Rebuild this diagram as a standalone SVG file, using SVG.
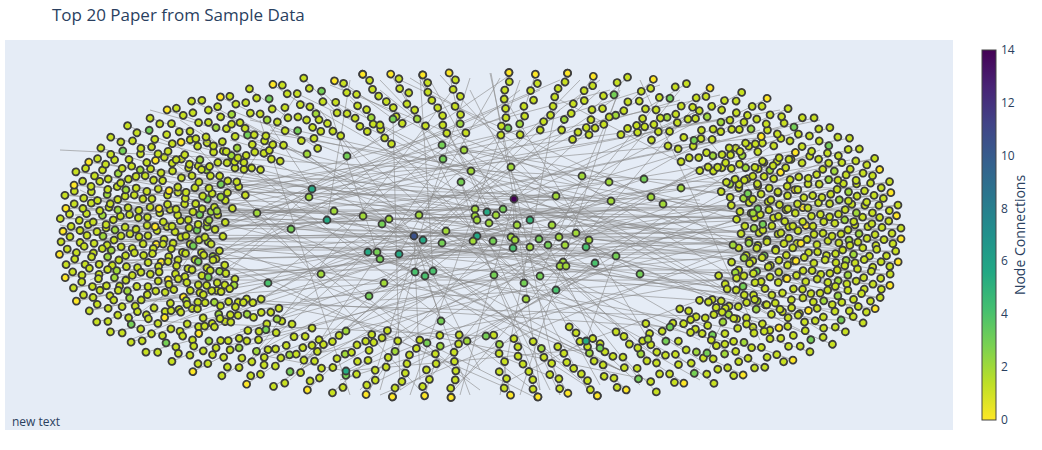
<svg xmlns="http://www.w3.org/2000/svg" width="1042" height="450" viewBox="0 0 1042 450">
<style>
.t{font-family:"Open Sans","Liberation Sans",Arial,sans-serif;fill:#2a3f5f}
.e{fill:none;stroke:#888;stroke-width:.85;stroke-opacity:.7}
circle{stroke:#3d3d3d;stroke-width:1.8}
.k0{fill:#fde725}.k1{fill:#c8e020}.k2{fill:#a2da37}.k3{fill:#75d054}.k4{fill:#4ac16d}.k5{fill:#34b679}.k6{fill:#25a884}.kB{fill:#3b528b}.k14{fill:#440154}
</style>
<defs>
<clipPath id="plot"><rect x="5" y="40" width="948" height="390"/></clipPath>
<linearGradient id="vir" x1="0" y1="1" x2="0" y2="0">
<stop offset="0" stop-color="#fde725"/><stop offset=".1" stop-color="#bddf26"/><stop offset=".2" stop-color="#7ad151"/><stop offset=".3" stop-color="#44bf70"/><stop offset=".4" stop-color="#22a884"/><stop offset=".5" stop-color="#21918c"/><stop offset=".6" stop-color="#2a788e"/><stop offset=".7" stop-color="#355f8d"/><stop offset=".8" stop-color="#414487"/><stop offset=".9" stop-color="#482475"/><stop offset="1" stop-color="#440154"/>
</linearGradient>
<g id="A"><path class="e" d="M0 0L52 -2"/><circle class="k2" cx="0" cy="0" r="3.5"/><circle class="k1" cx="9" cy="2" r="3.5"/><circle class="k1" cx="18" cy="-2" r="3.5"/><circle class="k1" cx="27" cy="5" r="3.5"/><circle class="k1" cx="35" cy="-1" r="3.5"/><circle class="k1" cx="44" cy="3" r="3.5"/><circle class="k0" cx="52" cy="-2" r="3.5"/></g>
<g id="B"><path class="e" d="M0 -3L48 1"/><circle class="k1" cx="0" cy="-3" r="3.5"/><circle class="k1" cx="8" cy="4" r="3.5"/><circle class="k1" cx="18" cy="-4" r="3.5"/><circle class="k3" cx="26" cy="3" r="3.5"/><circle class="k1" cx="37" cy="-3" r="3.5"/><circle class="k1" cx="48" cy="1" r="3.5"/></g>
<g id="C"><path class="e" d="M0 1L42 0"/><circle class="k1" cx="0" cy="1" r="3.5"/><circle class="k1" cx="10" cy="-3" r="3.5"/><circle class="k1" cx="20" cy="2" r="3.5"/><circle class="k1" cx="31" cy="-2" r="3.5"/><circle class="k1" cx="42" cy="0" r="3.5"/></g>
<g id="D"><path class="e" d="M0 0L53 -1"/><circle class="k1" cx="0" cy="0" r="3.5"/><circle class="k1" cx="7" cy="-5" r="3.5"/><circle class="k2" cx="11" cy="4" r="3.5"/><circle class="k1" cx="20" cy="-3" r="3.5"/><circle class="k1" cx="27" cy="5" r="3.5"/><circle class="k1" cx="34" cy="-2" r="3.5"/><circle class="k1" cx="44" cy="4" r="3.5"/><circle class="k1" cx="53" cy="-1" r="3.5"/></g>
<g id="E"><path class="e" d="M0 0L27 0"/><circle class="k1" cx="0" cy="0" r="3.5"/><circle class="k1" cx="9" cy="-1" r="3.5"/><circle class="k1" cx="18" cy="2" r="3.5"/><circle class="k1" cx="27" cy="0" r="3.5"/></g>
<g id="P1"><path class="e" d="M-160 -2L0 0"/><use href="#A" x="-52"/><use href="#C" x="-104" y="3"/><use href="#B" x="-160" y="-2"/></g>
<g id="P2"><path class="e" d="M-147 -3L0 0"/><use href="#D" x="-53"/><use href="#E" x="-87" y="4"/><use href="#A" x="-147" y="-3"/></g>
<g id="Q1"><use href="#B" x="-48"/><use href="#A" x="-108" y="3"/><use href="#E" x="-140" y="-2"/></g>
<g id="Q2"><use href="#C" x="-42"/><use href="#D" x="-103" y="-3"/><use href="#E" x="-137" y="3"/></g>
<g id="M1"><use href="#A" x="-52"/><use href="#B" x="-110" y="2"/></g>
<g id="M2"><use href="#D" x="-53"/><use href="#C" x="-102" y="-3"/></g>
<g id="S1"><use href="#B" x="-48"/><use href="#E" x="-83" y="3"/></g>
<g id="S2"><use href="#A" x="-52"/><use href="#E" x="-85" y="-3"/></g>
<g id="T1"><use href="#E" x="-27"/><use href="#E" x="-63" y="3"/><circle class="k0" cx="0" cy="0" r="3.5"/></g>
<g id="T2"><use href="#A" x="-52"/><circle class="k1" cx="-62" cy="4" r="3.5"/></g>
</defs>
<rect width="1042" height="450" fill="#fff"/>
<rect id="plotbg" x="5" y="40" width="948" height="390" fill="#e5ecf6"/>
<g clip-path="url(#plot)">
<g id="connectors">
<path class="e" d="M514 199L491 73M514 199L380 90M514 199L600 120M514 199L640 274M514 199L733 245M514 199L540 390M514 199L460 395M514 199L170 190M514 199L830 270M514 199L300 95M514 199L513 248M514 199L611 201M514 199L556 196M514 199L700 110M414 236L200 240M414 236L100 180M414 236L363 216M414 236L389 219M414 236L441 321M414 236L420 380M414 236L320 110M414 236L620 95M414 236L860 240M414 236L150 260M414 236L480 370M477 236L90 235M477 236L880 230M477 236L300 365M477 236L700 340M477 236L461 182M477 236L540 390M487 212L420 75M487 212L760 130M487 212L230 175M487 212L660 360M423 240L250 150M423 240L800 300M423 240L380 390M423 240L580 80M312 189L140 150M312 189L260 110M312 189L540 90M312 189L200 300M327 220L110 280M327 220L350 80M327 220L720 140M368 252L160 320M368 252L620 370M368 252L780 200M399 254L130 305M399 254L500 78M399 254L850 300M346 371L260 355M346 371L441 321M346 371L600 348M586 341L500 385M586 341L700 300M586 341L616 256M530 220L380 125M530 220L760 320M530 220L220 340M307 154L150 110M307 154L580 380M347 156L230 110M347 156L460 100M393 119L400 390M393 119L340 80M334 211L120 210M334 211L620 370M363 216L840 175M389 219L230 320M382 224L560 360M419 215L800 150M446 231L80 205M446 231L740 280M442 243L290 380M377 252L330 110M380 259L860 250M415 272L300 365M415 272L740 330M425 276L470 395M433 271L420 75M384 283L150 300M369 296L560 110M321 274L90 260M321 274L700 110M268 283L130 340M268 283L520 90M291 229L820 120M257 213L660 85M217 211L760 300M209 220L880 215M213 260L500 385M442 145L180 280M464 150L880 245M443 159L300 370M471 171L100 250M461 182L560 395M475 209L230 140M489 223L850 160M496 215L140 230M503 209L640 380M508 128L260 350M511 167L780 320M556 196L120 180M582 176L880 260M609 182L70 230M644 179L180 330M611 201L250 120M651 197L830 300M663 204L400 80M681 188L860 215M517 225L90 200M552 225L870 235M493 241L360 390M511 237L150 140M513 248L700 360M530 247L100 290M539 239L800 130M548 245L240 330M559 237L680 90M565 245L130 240M576 233L880 200M589 240L440 75M586 247L750 310M616 256L160 200M595 263L450 390M563 262L820 280M494 275L230 350M540 276L620 90M524 283L350 100M556 290L840 310M526 299L300 100M640 274L860 270M733 245L110 220M753 213L200 170M441 321L730 150M427 343L540 400M467 341L780 160M486 336L130 320M648 339L500 90M670 327L250 300M707 353L790 190M600 348L470 90M277 319L600 80M346 331L780 230M80 210L880 220M100 240L860 230M120 260L820 250M90 225L780 240M150 230L850 200M140 250L900 240M110 200L720 120M160 280L870 280M200 200L800 260M180 240L760 220M130 190L700 200M120 300L840 320M100 270L650 380M200 320L880 200M250 140L850 290M220 180L620 370M300 100L700 330M350 90L760 310M400 85L550 390M600 90L300 360M650 95L200 330M700 120L260 350M750 140L330 370M800 170L380 380M840 190L160 300M260 360L820 150M340 380L880 210M480 390L170 160M560 380L110 200M620 370L140 170M200 130L540 395M170 140L470 380M560 85L500 395M430 80L600 385M380 80L650 360M660 100L420 390M230 160L880 270M90 200L600 270M70 230L520 130M300 370L740 120M330 100L800 330M470 78L370 390M520 80L410 395M490 73L560 395M60 150L870 190M75 215L820 205M95 250L880 250M130 270L790 270M170 210L890 210M190 260L830 240M110 230L640 210M230 200L900 225M160 170L760 240M140 290L860 200M85 240L700 260M200 280L780 180M250 250L810 300M120 165L610 250M300 300L880 240M270 130L860 260M220 110L700 380M180 120L600 395M330 85L840 290M410 78L820 330M460 80L250 360M510 75L180 300M560 80L140 260M610 90L120 220M680 100L160 250M740 115L100 240M790 135L90 200M830 160L300 360M870 190L380 395M860 280L150 170M820 320L200 180M760 350L120 200M700 370L240 120M640 385L320 90M590 395L420 80M520 395L620 85M450 395L700 100M400 390L780 140M340 375L860 170M280 360L880 250M230 345L820 200M180 320L760 160M90 280L520 110M60 225L480 300M80 190L440 360M900 225L470 150M880 270L380 300M850 150L300 260M780 110L200 210M720 95L90 230M250 130L900 240M350 395L260 120M640 80L760 340M300 90L160 300M700 130L850 310M200 150L420 390M560 100L870 260M430 100L130 320"/>
</g>
<g id="ring" transform="translate(480,235)">
<use id="r1" href="#P1" transform="rotate(.79)" x="421"/>
<use id="r2" href="#P2" transform="rotate(2.37)" x="416"/>
<use id="r3" href="#P1" transform="rotate(3.96)" x="419"/>
<use id="r4" href="#P2" transform="rotate(5.6)" x="412"/>
<use id="r5" href="#P1" transform="rotate(7.28)" x="413"/>
<use id="r6" href="#P2" transform="rotate(9.02)" x="405"/>
<use id="r7" href="#P1" transform="rotate(10.85)" x="402"/>
<use id="r8" href="#Q1" transform="rotate(12.78)" x="393"/>
<use id="r9" href="#Q2" transform="rotate(14.84)" x="378"/>
<use id="r10" href="#Q1" transform="rotate(17.07)" x="369"/>
<use id="r11" href="#Q2" transform="rotate(19.49)" x="350"/>
<use id="r12" href="#M1" transform="rotate(22.14)" x="337"/>
<use id="r13" href="#M2" transform="rotate(25.09)" x="314"/>
<use id="r14" href="#M1" transform="rotate(28.4)" x="298"/>
<use id="r15" href="#S1" transform="rotate(32.17)" x="277"/>
<use id="r16" href="#S2" transform="rotate(36.47)" x="252"/>
<use id="r17" href="#S1" transform="rotate(41.43)" x="236"/>
<use id="r18" href="#S2" transform="rotate(47.19)" x="213"/>
<use id="r19" href="#T1" transform="rotate(53.88)" x="199"/>
<use id="r20" href="#T2" transform="rotate(61.59)" x="181"/>
<use id="r21" href="#T1" transform="rotate(70.32)" x="172"/>
<use id="r22" href="#T2" transform="rotate(79.91)" x="163"/>
<use id="r23" href="#P2" transform="rotate(179.21)" x="419"/>
<use id="r24" href="#P1" transform="rotate(177.63)" x="421"/>
<use id="r25" href="#P2" transform="rotate(176.04)" x="415"/>
<use id="r26" href="#P1" transform="rotate(174.4)" x="417"/>
<use id="r27" href="#P2" transform="rotate(172.72)" x="410"/>
<use id="r28" href="#P1" transform="rotate(170.98)" x="409"/>
<use id="r29" href="#P2" transform="rotate(169.15)" x="398"/>
<use id="r30" href="#Q2" transform="rotate(167.22)" x="393"/>
<use id="r31" href="#Q1" transform="rotate(165.16)" x="382"/>
<use id="r32" href="#Q2" transform="rotate(162.93)" x="365"/>
<use id="r33" href="#Q1" transform="rotate(160.51)" x="354"/>
<use id="r34" href="#M2" transform="rotate(157.86)" x="333"/>
<use id="r35" href="#M1" transform="rotate(154.91)" x="318"/>
<use id="r36" href="#M2" transform="rotate(151.6)" x="294"/>
<use id="r37" href="#S2" transform="rotate(147.83)" x="277"/>
<use id="r38" href="#S1" transform="rotate(143.53)" x="256"/>
<use id="r39" href="#S2" transform="rotate(138.57)" x="232"/>
<use id="r40" href="#S1" transform="rotate(132.81)" x="216"/>
<use id="r41" href="#T2" transform="rotate(126.12)" x="196"/>
<use id="r42" href="#T1" transform="rotate(118.41)" x="184"/>
<use id="r43" href="#T2" transform="rotate(109.68)" x="170"/>
<use id="r44" href="#T1" transform="rotate(100.09)" x="165"/>
<use id="r45" href="#P1" transform="rotate(180.79)" x="417"/>
<use id="r46" href="#P2" transform="rotate(182.37)" x="420"/>
<use id="r47" href="#P1" transform="rotate(183.96)" x="415"/>
<use id="r48" href="#P2" transform="rotate(185.6)" x="417"/>
<use id="r49" href="#P1" transform="rotate(187.28)" x="409"/>
<use id="r50" href="#P2" transform="rotate(189.02)" x="409"/>
<use id="r51" href="#P1" transform="rotate(190.85)" x="398"/>
<use id="r52" href="#Q1" transform="rotate(192.78)" x="389"/>
<use id="r53" href="#Q2" transform="rotate(194.84)" x="382"/>
<use id="r54" href="#Q1" transform="rotate(197.07)" x="369"/>
<use id="r55" href="#Q2" transform="rotate(199.49)" x="350"/>
<use id="r56" href="#M1" transform="rotate(202.14)" x="337"/>
<use id="r57" href="#M2" transform="rotate(205.09)" x="318"/>
<use id="r58" href="#M1" transform="rotate(208.4)" x="294"/>
<use id="r59" href="#S1" transform="rotate(212.17)" x="273"/>
<use id="r60" href="#S2" transform="rotate(216.47)" x="256"/>
<use id="r61" href="#S1" transform="rotate(221.43)" x="236"/>
<use id="r62" href="#S2" transform="rotate(227.19)" x="212"/>
<use id="r63" href="#T1" transform="rotate(233.88)" x="199"/>
<use id="r64" href="#T2" transform="rotate(241.59)" x="184"/>
<use id="r65" href="#T1" transform="rotate(250.32)" x="170"/>
<use id="r66" href="#T2" transform="rotate(259.91)" x="165"/>
<use id="r67" href="#P2" transform="rotate(-.79)" x="421"/>
<use id="r68" href="#P1" transform="rotate(-2.37)" x="417"/>
<use id="r69" href="#P2" transform="rotate(-3.96)" x="419"/>
<use id="r70" href="#P1" transform="rotate(-5.6)" x="413"/>
<use id="r71" href="#P2" transform="rotate(-7.28)" x="413"/>
<use id="r72" href="#P1" transform="rotate(-9.02)" x="405"/>
<use id="r73" href="#P2" transform="rotate(-10.85)" x="402"/>
<use id="r74" href="#Q2" transform="rotate(-12.78)" x="389"/>
<use id="r75" href="#Q1" transform="rotate(-14.84)" x="382"/>
<use id="r76" href="#Q2" transform="rotate(-17.07)" x="366"/>
<use id="r77" href="#Q1" transform="rotate(-19.49)" x="354"/>
<use id="r78" href="#M2" transform="rotate(-22.14)" x="333"/>
<use id="r79" href="#M1" transform="rotate(-25.09)" x="318"/>
<use id="r80" href="#M2" transform="rotate(-28.4)" x="298"/>
<use id="r81" href="#S2" transform="rotate(-32.17)" x="273"/>
<use id="r82" href="#S1" transform="rotate(-36.47)" x="256"/>
<use id="r83" href="#S2" transform="rotate(-41.43)" x="233"/>
<use id="r84" href="#S1" transform="rotate(-47.19)" x="216"/>
<use id="r85" href="#T2" transform="rotate(-53.88)" x="195"/>
<use id="r86" href="#T1" transform="rotate(-61.59)" x="184"/>
<use id="r87" href="#T2" transform="rotate(-70.32)" x="170"/>
<use id="r88" href="#T1" transform="rotate(-79.91)" x="165"/>
</g>
<g id="inner">
<g id="n1"><circle class="k2" cx="307" cy="154" r="3.5"/></g>
<g id="n2"><circle class="k3" cx="347" cy="156" r="3.5"/></g>
<g id="n3"><circle class="k3" cx="393" cy="119" r="3.5"/></g>
<g id="n4"><circle class="k6" cx="312" cy="189" r="3.5"/></g>
<g id="n5"><circle class="k2" cx="309" cy="197" r="3.5"/></g>
<g id="n6"><circle class="k2" cx="334" cy="211" r="3.5"/></g>
<g id="n7"><circle class="k6" cx="327" cy="220" r="3.5"/></g>
<g id="n8"><circle class="k2" cx="363" cy="216" r="3.5"/></g>
<g id="n9"><circle class="k2" cx="389" cy="219" r="3.5"/></g>
<g id="n10"><circle class="k3" cx="382" cy="224" r="3.5"/></g>
<g id="n11"><circle class="k2" cx="419" cy="215" r="3.5"/></g>
<g id="n12"><circle class="kB" cx="414" cy="236" r="3.5"/></g>
<g id="n13"><circle class="k6" cx="423" cy="240" r="3.5"/></g>
<g id="n14"><circle class="k2" cx="446" cy="231" r="3.5"/></g>
<g id="n15"><circle class="k3" cx="442" cy="243" r="3.5"/></g>
<g id="n16"><circle class="k6" cx="368" cy="252" r="3.5"/></g>
<g id="n17"><circle class="k3" cx="377" cy="252" r="3.5"/></g>
<g id="n18"><circle class="k3" cx="380" cy="259" r="3.5"/></g>
<g id="n19"><circle class="k6" cx="399" cy="254" r="3.5"/></g>
<g id="n20"><circle class="k4" cx="415" cy="272" r="3.5"/></g>
<g id="n21"><circle class="k4" cx="425" cy="276" r="3.5"/></g>
<g id="n22"><circle class="k4" cx="433" cy="271" r="3.5"/></g>
<g id="n23"><circle class="k2" cx="384" cy="283" r="3.5"/></g>
<g id="n24"><circle class="k3" cx="369" cy="296" r="3.5"/></g>
<g id="n25"><circle class="k2" cx="321" cy="274" r="3.5"/></g>
<g id="n26"><circle class="k4" cx="268" cy="283" r="3.5"/></g>
<g id="n27"><circle class="k3" cx="291" cy="229" r="3.5"/></g>
<g id="n28"><circle class="k2" cx="257" cy="213" r="3.5"/></g>
<g id="n29"><circle class="k2" cx="217" cy="211" r="3.5"/></g>
<g id="n30"><circle class="k2" cx="209" cy="220" r="3.5"/></g>
<g id="n31"><circle class="k1" cx="213" cy="260" r="3.5"/></g>
<g id="n32"><circle class="k3" cx="442" cy="145" r="3.5"/></g>
<g id="n33"><circle class="k2" cx="464" cy="150" r="3.5"/></g>
<g id="n34"><circle class="k3" cx="443" cy="159" r="3.5"/></g>
<g id="n35"><circle class="k2" cx="471" cy="171" r="3.5"/></g>
<g id="n36"><circle class="k3" cx="461" cy="182" r="3.5"/></g>
<g id="n37"><circle class="k2" cx="475" cy="209" r="3.5"/></g>
<g id="n38"><circle class="k2" cx="475" cy="216" r="3.5"/></g>
<g id="n39"><circle class="k2" cx="477" cy="220" r="3.5"/></g>
<g id="n40"><circle class="k6" cx="487" cy="212" r="3.5"/></g>
<g id="n41"><circle class="k2" cx="489" cy="223" r="3.5"/></g>
<g id="n42"><circle class="k6" cx="477" cy="236" r="3.5"/></g>
<g id="n43"><circle class="k2" cx="473" cy="241" r="3.5"/></g>
<g id="n44"><circle class="k2" cx="496" cy="215" r="3.5"/></g>
<g id="n45"><circle class="k3" cx="503" cy="209" r="3.5"/></g>
<g id="n46"><circle class="k3" cx="508" cy="128" r="3.5"/></g>
<g id="n47"><circle class="k2" cx="511" cy="167" r="3.5"/></g>
<g id="n48"><circle class="k14" cx="514" cy="199" r="3.5"/></g>
<g id="n49"><circle class="k2" cx="556" cy="196" r="3.5"/></g>
<g id="n50"><circle class="k2" cx="582" cy="176" r="3.5"/></g>
<g id="n51"><circle class="k2" cx="609" cy="182" r="3.5"/></g>
<g id="n52"><circle class="k3" cx="644" cy="179" r="3.5"/></g>
<g id="n53"><circle class="k2" cx="611" cy="201" r="3.5"/></g>
<g id="n54"><circle class="k2" cx="651" cy="197" r="3.5"/></g>
<g id="n55"><circle class="k2" cx="663" cy="204" r="3.5"/></g>
<g id="n56"><circle class="k2" cx="681" cy="188" r="3.5"/></g>
<g id="n57"><circle class="k2" cx="517" cy="225" r="3.5"/></g>
<g id="n58"><circle class="k5" cx="530" cy="220" r="3.5"/></g>
<g id="n59"><circle class="k2" cx="552" cy="225" r="3.5"/></g>
<g id="n60"><circle class="k3" cx="493" cy="241" r="3.5"/></g>
<g id="n61"><circle class="k2" cx="511" cy="237" r="3.5"/></g>
<g id="n62"><circle class="k2" cx="515" cy="240" r="3.5"/></g>
<g id="n63"><circle class="k4" cx="513" cy="248" r="3.5"/></g>
<g id="n64"><circle class="k2" cx="530" cy="247" r="3.5"/></g>
<g id="n65"><circle class="k3" cx="539" cy="239" r="3.5"/></g>
<g id="n66"><circle class="k3" cx="548" cy="245" r="3.5"/></g>
<g id="n67"><circle class="k2" cx="559" cy="237" r="3.5"/></g>
<g id="n68"><circle class="k2" cx="565" cy="245" r="3.5"/></g>
<g id="n69"><circle class="k2" cx="576" cy="233" r="3.5"/></g>
<g id="n70"><circle class="k2" cx="589" cy="240" r="3.5"/></g>
<g id="n71"><circle class="k4" cx="586" cy="247" r="3.5"/></g>
<g id="n72"><circle class="k3" cx="616" cy="256" r="3.5"/></g>
<g id="n73"><circle class="k4" cx="595" cy="263" r="3.5"/></g>
<g id="n74"><circle class="k2" cx="563" cy="262" r="3.5"/></g>
<g id="n75"><circle class="k2" cx="560" cy="266" r="3.5"/></g>
<g id="n76"><circle class="k2" cx="566" cy="266" r="3.5"/></g>
<g id="n77"><circle class="k3" cx="494" cy="275" r="3.5"/></g>
<g id="n78"><circle class="k3" cx="540" cy="276" r="3.5"/></g>
<g id="n79"><circle class="k3" cx="524" cy="283" r="3.5"/></g>
<g id="n80"><circle class="k4" cx="556" cy="290" r="3.5"/></g>
<g id="n81"><circle class="k2" cx="526" cy="299" r="3.5"/></g>
<g id="n82"><circle class="k3" cx="640" cy="274" r="3.5"/></g>
<g id="n83"><circle class="k2" cx="733" cy="245" r="3.5"/></g>
<g id="n84"><circle class="k2" cx="753" cy="213" r="3.5"/></g>
<g id="n85"><circle class="k1" cx="380" cy="125" r="3.5"/></g>
<g id="n86"><circle class="k3" cx="441" cy="321" r="3.5"/></g>
<g id="n87"><circle class="k2" cx="346" cy="331" r="3.5"/></g>
<g id="n88"><circle class="k3" cx="427" cy="343" r="3.5"/></g>
<g id="n89"><circle class="k2" cx="467" cy="341" r="3.5"/></g>
<g id="n90"><circle class="k3" cx="486" cy="336" r="3.5"/></g>
<g id="n91"><circle class="k6" cx="346" cy="371" r="3.5"/></g>
<g id="n92"><circle class="k2" cx="277" cy="319" r="3.5"/></g>
<g id="n93"><circle class="k2" cx="648" cy="339" r="3.5"/></g>
<g id="n94"><circle class="k3" cx="670" cy="327" r="3.5"/></g>
<g id="n95"><circle class="k3" cx="707" cy="353" r="3.5"/></g>
<g id="n96"><circle class="k3" cx="600" cy="348" r="3.5"/></g>
<g id="n97"><circle class="k6" cx="586" cy="341" r="3.5"/></g>
</g>
</g>
<g id="colorbar">
<rect x="982" y="50" width="14" height="370" fill="url(#vir)" stroke="#444" stroke-width="1"/>
<g class="t" font-size="12">
<text x="1001" y="54">14</text>
<text x="1001" y="107">12</text>
<text x="1001" y="160">10</text>
<text x="1001" y="213">8</text>
<text x="1001" y="265">6</text>
<text x="1001" y="318">4</text>
<text x="1001" y="371">2</text>
<text x="1001" y="424">0</text>
</g>
<text class="t" font-size="14" text-anchor="middle" transform="translate(1025,235) rotate(-90)">Node Connections</text>
</g>
<text id="title" class="t" x="52" y="21" font-size="17">Top 20 Paper from Sample Data</text>
<text id="note" class="t" x="12" y="426" font-size="12">new text</text>
</svg>
